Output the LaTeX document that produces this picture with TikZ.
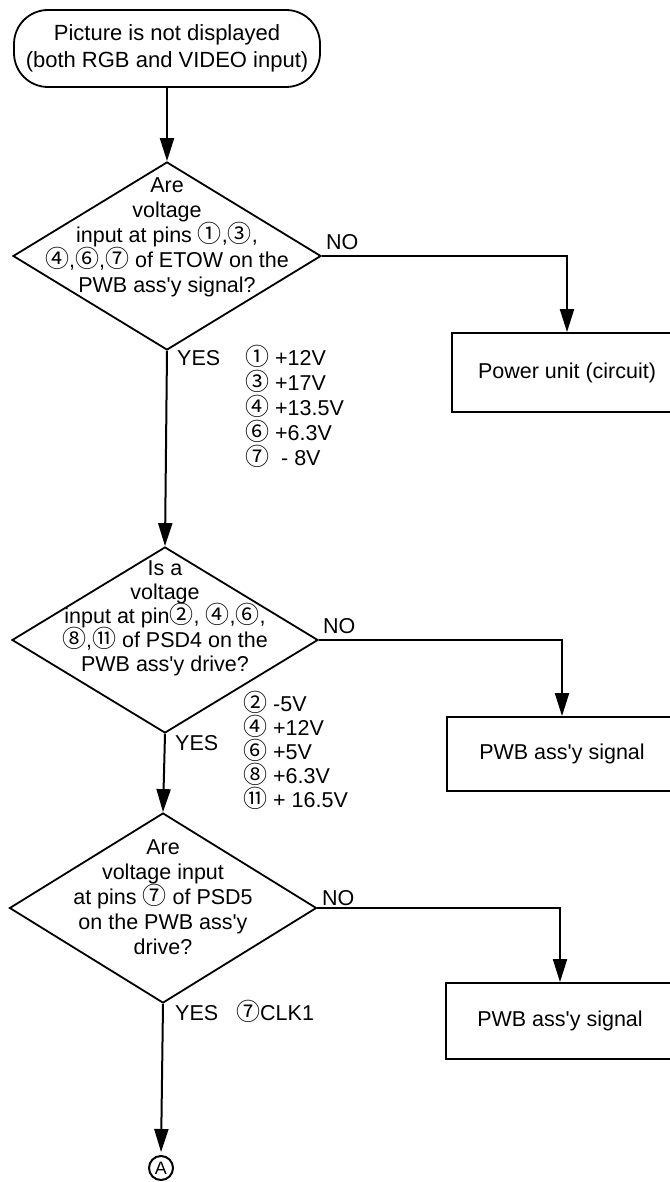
\documentclass[tikz,border=0pt]{standalone}
\usepackage{fontspec}
\setmainfont{Liberation Sans}
\newfontfamily\symfont{Noto Sans CJK JP}
\usetikzlibrary{shapes.geometric,arrows.meta}
\newcommand{\circd}[1]{\smash{{\symfont\fontsize{24}{24}\selectfont #1}}}
\newcommand{\ap}{\textquotesingle}
\begin{document}
\begin{tikzpicture}[x=1pt,y=-1pt,
  every node/.style={font=\fontsize{21.5}{25}\selectfont, inner sep=0pt},
  arr/.style={line width=2pt, -{Triangle[length=23pt,width=14pt]}},
  decision/.style={diamond, draw, line width=1.8pt, inner sep=0pt},
  box/.style={draw, rectangle, line width=1.8pt, align=center},
  lbl/.style={anchor=base west},
  qtext/.style={align=center, font=\fontsize{21.5}{25}\selectfont}
]
\useasboundingbox (0,0) rectangle (669,1182);

% start
\node[draw, rounded corners=34pt, minimum width=306pt, minimum height=77pt,
      line width=1.8pt, align=center, font=\fontsize{22}{27}\selectfont]
      (start) at (167,48.5) {Picture is not displayed\\(both RGB and VIDEO input)};

% decision 1
\node[decision, minimum width=308pt, minimum height=188pt] (d1) at (167,256) {};
\node[qtext] (t1) at (167,237) {Are\\voltage\\input at pins \circd{①},\circd{③},\\\circd{④},\circd{⑥},\circd{⑦} of ETOW on the\\PWB ass\ap y signal?};

% box 1
\node[box, minimum width=230pt, minimum height=79pt] (b1) at (567,372.5) {Power unit (circuit)};

% decision 2
\node[decision, minimum width=306pt, minimum height=186pt] (d2) at (165,640) {};
\node[qtext, font=\fontsize{21.5}{24}\selectfont] (t2) at (165,618) {Is a\\voltage\\input at pin\circd{②}, \circd{④},\circd{⑥},\\\circd{⑧},\circd{⑪} of PSD4 on the\\PWB ass\ap y drive?};

% box 2
\node[box, minimum width=230pt, minimum height=74pt] (b2) at (562,754) {PWB ass\ap y signal};

% decision 3
\node[decision, minimum width=307pt, minimum height=190pt] (d3) at (163,908) {};
\node[qtext] (t3) at (163,897) {Are\\voltage input\\at pins \circd{⑦} of PSD5\\on the PWB ass\ap y\\drive?};

% box 3
\node[box, minimum width=228pt, minimum height=76pt] (b3) at (560,1021) {PWB ass\ap y signal};

% connector A
\node[draw, circle, line width=2pt, minimum size=24pt, font=\fontsize{18}{18}\selectfont] (A) at (161,1168) {A};

% connectors
\draw[arr] (start.south) -- (d1.north);
\draw[arr] (d1.east) -| (b1.north);
\draw[arr] (d1.south) -- (d2.north);
\draw[arr] (d2.east) -| (b2.north);
\draw[arr] (d2.south) -- (d3.north);
\draw[arr] (d3.east) -| (b3.north);
\draw[arr, shorten >=3pt] (d3.south) -- (A.north);

% labels
\node[lbl] (no1) at (326,250) {NO};
\node[lbl] (no2) at (323,633) {NO};
\node[lbl] (no3) at (322,905) {NO};
\node[lbl] (yes1) at (177,365) {YES};
\node[lbl] (yes2) at (175,750) {YES};
\node[lbl] (yes3) at (175,1020) {YES};

% voltage lists
\node[lbl] (v11) at (245,365) {\circd{①} +12V};
\node[lbl] (v12) at (245,390) {\circd{③} +17V};
\node[lbl] (v13) at (245,415) {\circd{④} +13.5V};
\node[lbl] (v14) at (245,440) {\circd{⑥} +6.3V};
\node[lbl] (v15) at (245,465) {\circd{⑦} \ - 8V};

\node[lbl] (v21) at (243,711) {\circd{②} -5V};
\node[lbl] (v22) at (243,735) {\circd{④} +12V};
\node[lbl] (v23) at (243,759) {\circd{⑥} +5V};
\node[lbl] (v24) at (243,783) {\circd{⑧} +6.3V};
\node[lbl] (v25) at (243,807) {\circd{⑪} + 16.5V};

\node[lbl] (v31) at (236,1020) {\circd{⑦}CLK1};
\end{tikzpicture}
\end{document}
